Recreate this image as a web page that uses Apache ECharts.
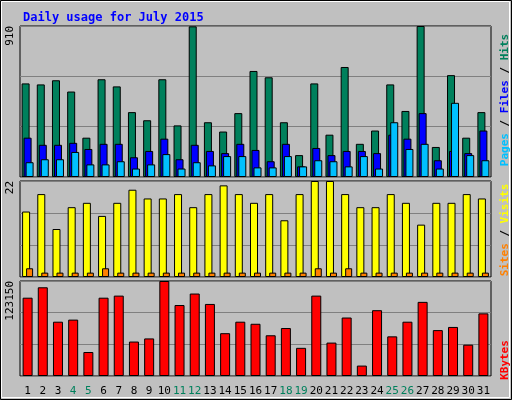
<!DOCTYPE html><html><head><meta charset="utf-8"><script src="https://cdn.jsdelivr.net/npm/echarts@6/dist/echarts.min.js"></script>
<style>body{margin:0;background:#fff}#c{width:512px;height:400px}</style></head><body><div id="c"></div><script>
const days=[];for(let i=1;i<=31;i++)days.push(String(i));
const weekends=[4,5,11,12,18,19,25,26];
const hits=[564,558,583,515,237,589,546,391,342,589,311,908,330,274,385,639,601,330,132,564,255,663,200,280,558,398,910,181,614,237,391];
const files=[237,194,194,206,169,200,200,119,157,231,107,194,157,144,200,163,95,200,64,175,132,157,157,144,255,231,385,101,157,144,280];
const pages=[89,107,107,151,76,76,95,51,76,138,51,89,70,126,126,58,58,126,64,101,95,64,126,51,330,169,200,51,447,132,101];
const sites=[15,19,11,16,17,14,17,20,18,18,19,16,19,21,19,17,19,13,19,22,22,19,16,16,19,17,12,17,17,19,18];
const visits=[2,1,1,1,1,2,1,1,1,1,1,1,1,1,1,1,1,1,1,2,1,2,1,1,1,1,1,1,1,1,1];
const kbytes=[101500,115000,70400,73100,31100,101500,104200,44650,48700,123150,92000,106900,93400,55500,70400,67700,52800,62200,36500,104200,43300,75800,13500,85300,51400,70400,96100,59500,63600,40600,81200];
const maxes=[910,22,123150];
const font='DejaVu Sans Mono';
const grids=[{top:26,height:151},{top:181,height:96},{top:281,height:95}].map(g=>({left:20,right:21,top:g.top,height:g.height,show:true,backgroundColor:'#c0c0c0',borderColor:'#000',borderWidth:1}));
const xAxis=grids.map((g,i)=>({type:'category',gridIndex:i,data:days,axisLine:{show:false},axisTick:{show:false},
 axisLabel:{show:i===2,interval:0,margin:10,fontFamily:font,fontSize:11,formatter:v=>weekends.includes(+v)?'{w|'+v+'}':'{n|'+v+'}',rich:{w:{color:'#00805c',fontFamily:font,fontSize:11},n:{color:'#000',fontFamily:font,fontSize:11}}}}));
const yAxis=maxes.map((m,i)=>({type:'value',gridIndex:i,min:0,max:m,interval:m/3,
 axisLine:{show:false},axisTick:{show:false},splitLine:{lineStyle:{color:'#808080',width:1}},
 axisLabel:{rotate:90,margin:4,fontFamily:font,fontSize:11,color:'#000',align:'right',verticalAlign:'bottom',formatter:v=>v===m?String(m):''}}));
const bs={borderColor:'#000',borderWidth:1};
const series=[
 {type:'bar',xAxisIndex:0,yAxisIndex:0,data:hits,barWidth:8,barGap:'-75%',itemStyle:{color:'#00805c',...bs}},
 {type:'bar',xAxisIndex:0,yAxisIndex:0,data:files,barWidth:8,barGap:'-75%',itemStyle:{color:'#0000ff',...bs}},
 {type:'bar',xAxisIndex:0,yAxisIndex:0,data:pages,barWidth:8,barGap:'-75%',itemStyle:{color:'#00c0ff',...bs}},
 {type:'bar',xAxisIndex:1,yAxisIndex:1,data:sites,barWidth:8,barGap:'-50%',itemStyle:{color:'#ffff00',...bs}},
 {type:'bar',xAxisIndex:1,yAxisIndex:1,data:visits,barWidth:7,barGap:'-50%',itemStyle:{color:'#ff8000',...bs}},
 {type:'bar',xAxisIndex:2,yAxisIndex:2,data:kbytes,barWidth:10,itemStyle:{color:'#ff0000',...bs}}
];
const vt=(x,y,rich,text)=>({type:'text',left:x,top:y,rotation:Math.PI/2,style:{text:text,rich:rich,font:'bold 11px '+font,textAlign:'center',textVerticalAlign:'middle'}});
const chart=echarts.init(document.getElementById('c'));
chart.setOption({animation:false,backgroundColor:'#c0c0c0',
 title:{text:'Daily usage for July 2015',left:18,top:7,textStyle:{color:'#0000ff',fontFamily:font,fontSize:12,fontWeight:'bold'}},
 grid:grids,xAxis:xAxis,yAxis:yAxis,series:series,
 graphic:[
  {type:'rect',shape:{x:0.5,y:0.5,width:511,height:399},style:{fill:null,stroke:'#000',lineWidth:1},silent:true},
  {type:'rect',shape:{x:1.5,y:1.5,width:508,height:396},style:{fill:null,stroke:'#fff',lineWidth:1},silent:true},
  {type:'text',x:505,y:100,rotation:Math.PI/2,style:{text:'{p|Pages}{s| / }{f|Files}{s| / }{h|Hits}',align:'center',verticalAlign:'middle',rich:{p:{fill:'#00c0ff',font:'bold 11px '+font},f:{fill:'#0000ff',font:'bold 11px '+font},h:{fill:'#00805c',font:'bold 11px '+font},s:{fill:'#000',font:'bold 11px '+font}}}},
  {type:'text',x:505,y:230,rotation:Math.PI/2,style:{text:'{a|Sites}{s| / }{b|Visits}',align:'center',verticalAlign:'middle',rich:{a:{fill:'#ff8000',font:'bold 11px '+font},b:{fill:'#ffff00',font:'bold 11px '+font},s:{fill:'#000',font:'bold 11px '+font}}}},
  {type:'text',x:505,y:360,rotation:Math.PI/2,style:{text:'KBytes',fill:'#ff0000',font:'bold 11px '+font,align:'center',verticalAlign:'middle'}}
 ]});
</script></body></html>
